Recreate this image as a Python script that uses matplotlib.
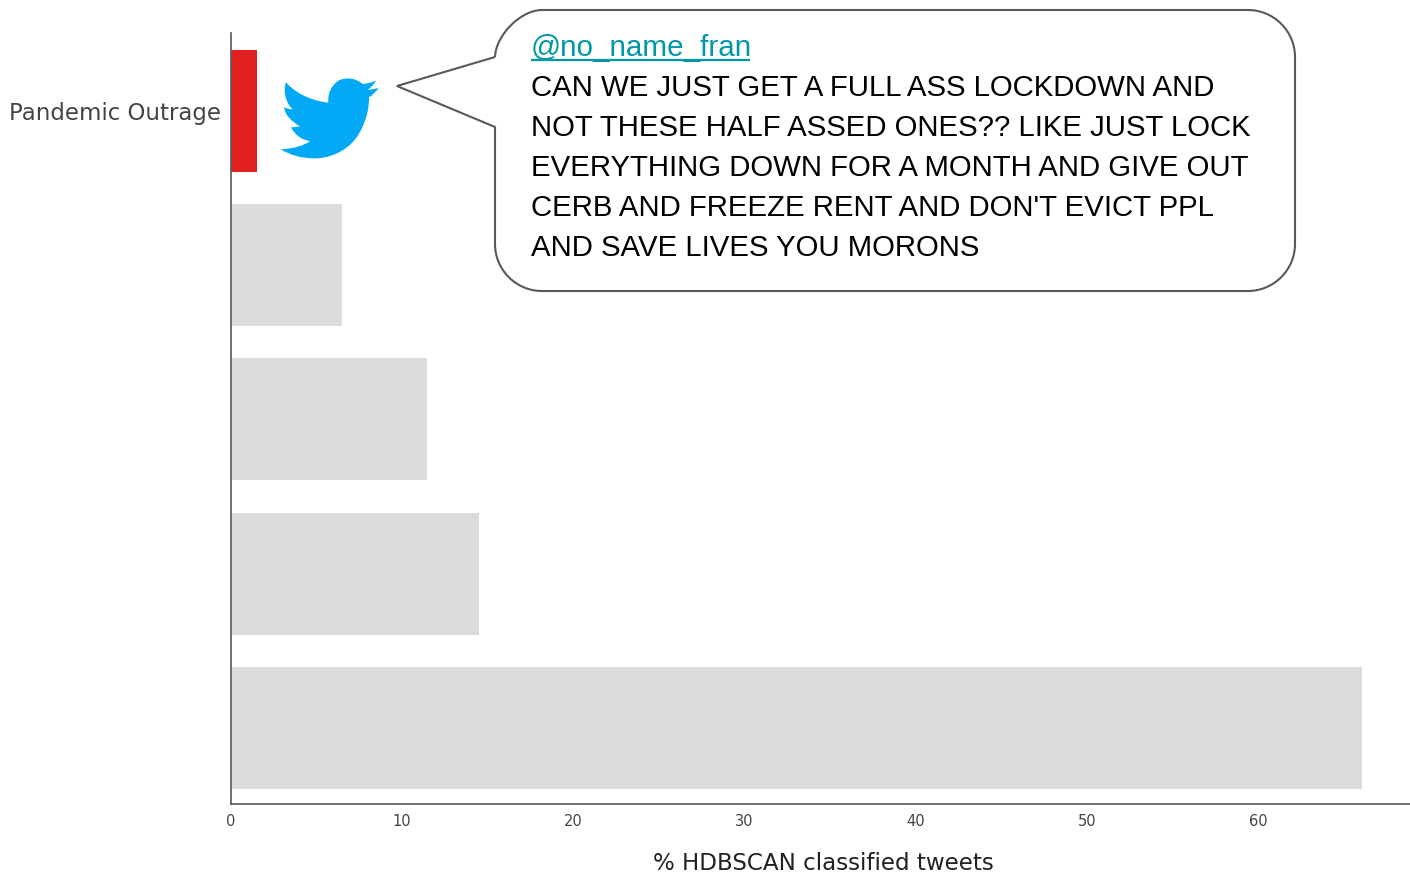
import matplotlib
matplotlib.use("Agg")
import matplotlib.pyplot as plt
from matplotlib.path import Path
from matplotlib.patches import PathPatch

# Values (top bar first)
topics = ["Pandemic Outrage", "", "", "", ""]
shares = [1.52, 6.5, 11.47, 14.5, 66.05]
bar_colors = ["#e01f1f", "#dbdbdb", "#dbdbdb", "#dbdbdb", "#dbdbdb"]
x_ticks = [0, 10, 20, 30, 40, 50, 60]

handle = "@no_name_fran"
tweet_lines = [
    "CAN WE JUST GET A FULL ASS LOCKDOWN AND",
    "NOT THESE HALF ASSED ONES?? LIKE JUST LOCK",
    "EVERYTHING DOWN FOR A MONTH AND GIVE OUT",
    "CERB AND FREEZE RENT AND DON'T EVICT PPL",
    "AND SAVE LIVES YOU MORONS",
]

W, H = 1410, 874
fig = plt.figure(figsize=(W / 100, H / 100), dpi=100)
ax = fig.add_axes([231 / W, 1 - 804 / H, (W - 231) / W, (804 - 33) / H])

positions = list(range(len(shares)))
ax.barh(positions, shares, height=0.79, color=bar_colors)
ax.set_xlim(0, (W - 231) / 17.12)
ax.set_ylim(4.492, -0.503)

ax.set_yticks(positions)
ax.set_yticklabels(topics, fontsize=16.5, color="#444444")
ax.set_xticks(x_ticks)
ax.tick_params(axis="both", length=0)
ax.tick_params(axis="y", pad=7.5)
ax.tick_params(axis="x", labelsize=10.5, labelcolor="#444444", pad=7)

for side in ["top", "right"]:
    ax.spines[side].set_visible(False)
for side in ["left", "bottom"]:
    ax.spines[side].set_color("#595959")
    ax.spines[side].set_linewidth(1.2)

# Overlay in picture pixels for the call-out, the bird and the free text
over = fig.add_axes([0, 0, 1, 1])
over.set_xlim(0, W)
over.set_ylim(H, 0)
over.axis("off")
over.patch.set_alpha(0)

over.text(823, 864, "% HDBSCAN classified tweets", fontsize=16.6, color="#222222",
          ha="center", va="center")

# Speech bubble
left, right, top, bottom, r = 495, 1295, 10, 291, 47
k = 0.45 * r
verts = [
    (left, 57),
    (left + r - k - 25, 57 - 22), (left + r - k, top), (left + r, top),
    (right - r, top),
    (right - k, top), (right, top + k), (right, top + r),
    (right, bottom - r),
    (right, bottom - k), (right - k, bottom), (right - r, bottom),
    (left + r, bottom),
    (left + k, bottom), (left, bottom - k), (left, bottom - r),
    (left, 127),
    (397, 86),
    (left, 57),
]
codes = [
    Path.MOVETO,
    Path.CURVE4, Path.CURVE4, Path.CURVE4,
    Path.LINETO,
    Path.CURVE4, Path.CURVE4, Path.CURVE4,
    Path.LINETO,
    Path.CURVE4, Path.CURVE4, Path.CURVE4,
    Path.LINETO,
    Path.CURVE4, Path.CURVE4, Path.CURVE4,
    Path.LINETO,
    Path.LINETO,
    Path.LINETO,
]
over.add_patch(PathPatch(Path(verts, codes), facecolor="white", edgecolor="#595959",
                         linewidth=1.5, joinstyle="miter"))

bird = [
    (62, 298),
    (100, 296), (130, 288), (150, 273),
    (125, 270), (105, 255), (93, 232),
    (105, 232), (120, 229), (120, 229),
    (95, 215), (75, 195), (72, 172),
    (82, 177), (98, 178), (98, 178),
    (78, 160), (68, 125), (78, 97),
    (100, 122), (140, 150), (205, 158),
    (203, 135), (210, 110), (235, 92),
    (255, 82), (285, 82), (308, 102),
    (320, 100), (338, 98), (348, 91),
    (342, 105), (330, 115), (322, 120),
    (335, 118), (347, 116), (356, 114),
    (348, 125), (338, 135), (327, 142),
    (328, 180), (315, 225), (290, 262),
    (255, 310), (200, 326), (160, 325),
    (125, 325), (90, 315), (62, 298),
]
bird_px = [(260 + x / 3, 50 + y / 3) for x, y in bird]
bird_codes = [Path.MOVETO] + [Path.CURVE4] * (len(bird) - 1)
over.add_patch(PathPatch(Path(bird_px, bird_codes), facecolor="#03a9f4", edgecolor="none"))

# Tweet text
font = "Liberation Sans"
over.text(531, 48, handle, fontsize=21.3, family=font, color="#0097a7", va="center")
over.plot([531, 750], [59.5, 59.5], color="#0097a7", linewidth=1.6, solid_capstyle="butt")
for i, line in enumerate(tweet_lines):
    over.text(531, 87.5 + i * 40, line, fontsize=21.15, family=font, color="black", va="center")

fig.savefig("out.png", dpi=100)
